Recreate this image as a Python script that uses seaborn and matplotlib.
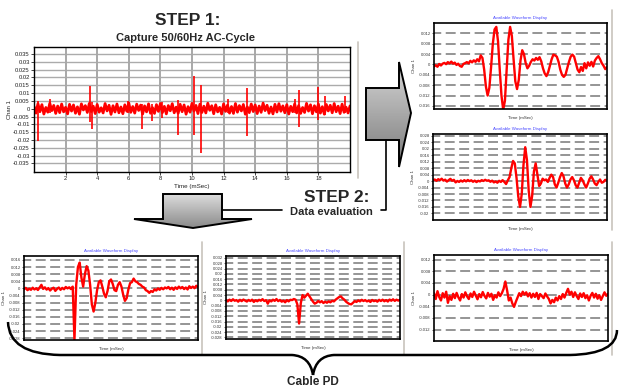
import numpy as np
import matplotlib
matplotlib.use("Agg")
import matplotlib.pyplot as plt
import seaborn as sns
from matplotlib.patches import Polygon, PathPatch
from matplotlib.path import Path

sns.set_style("white")
plt.rcParams['font.family'] = ['Liberation Sans', 'DejaVu Sans']

# ---- STEP 1 capture (20 ms), values in 1e-3 ----
capture_noise = [1.5, -2.8, 3.2, -1.9, 2.6, -3.4, 0.8, -2.2, 3.5, -1.2, 2.1, -3.0, 1.7, -2.5, 3.0, -2.0, 0.9, -3.3, 2.8, -1.5,
                 2.4, -2.9, 1.2, -3.5, 3.1, -0.8, 2.0, -2.4, 3.4, -1.8, 1.6, -3.1, 2.7, -2.2, 0.6, -2.7, 3.3, -1.4, 2.2, -3.6,
                 1.9, -2.1, 3.0, -2.6, 1.1, -3.2, 2.5, -1.6, 3.6, -2.3, 1.4, -2.8, 2.9, -1.1, 2.3, -3.4, 1.8, -2.0, 3.1, -2.9,
                 0.7, -3.0, 2.6, -1.7, 3.3, -2.5, 1.5, -3.3, 2.0, -1.3, 3.2, -2.6, 1.0, -2.9, 2.8, -1.9, 2.4, -3.5, 1.3, -2.2,
                 3.4, -1.5, 2.1, -3.1, 2.9, -2.4, 1.6, -2.7, 3.5, -1.0, 1.9, -3.2, 2.5, -2.0, 0.9, -3.4, 3.1, -1.7, 2.3, -2.8,
                 1.4, -3.0, 3.3, -2.2, 2.0, -1.4, 2.7, -3.5, 1.2, -2.5, 3.0, -1.8, 2.4, -3.1, 1.7, -2.3, 3.6, -1.2, 2.2, -2.9,
                 1.1, -3.3, 2.8, -2.1, 3.2, -1.6, 1.8, -2.6, 2.6, -3.4, 1.5, -1.9, 3.1, -2.7, 2.0, -3.0, 0.8, -2.4, 3.4, -1.5,
                 2.5, -3.2, 1.9, -2.0, 3.0, -2.8, 1.3, -3.5, 2.7, -1.4, 2.2, -2.6, 3.3, -1.9, 1.6, -3.1, 2.9, -2.3, 1.0, -2.7,
                 1.8]
spike_t = [0.25, 1.0, 3.55, 3.65, 5.95, 6.85, 7.5, 8.1, 9.1, 10.1, 10.55, 12.3, 13.5, 16.5, 16.8, 17.95, 18.4, 19.7]
spike_hi = [5, 6, 14.5, 4, 5, 3, 3, 4, 5.5, 21, 15, 6, 13.5, 6, 12, 14, 8, 8]
spike_lo = [-20.5, -3, -8.5, -13, -3, -13, -8, -6, -17, -17, -28.5, -3, -17.5, -3, -12, -7, -4, -3]

main_yticks = [0.035, 0.03, 0.025, 0.02, 0.015, 0.01, 0.005, 0, -0.005, -0.01, -0.015, -0.02, -0.025, -0.03, -0.035]
main_ylabels = ["0.035", "0.03", "0.025", "0.02", "0.015", "0.01", "0.005", "0",
                "-0.005", "-0.01", "-0.015", "-0.02", "-0.025", "-0.03", "-0.035"]
main_xticks = [2, 4, 6, 8, 10, 12, 14, 16, 18]

# ---- detail waveforms (101 samples each, 1e-3 units) ----
wave_tr1 = [-0.8, -0.3, -0.9, 0.2, -0.4, 0.3, 0.6, 0.1, 0.9, 0.4, 1.1, 0.3, 0.7, -0.2, 0.3, -0.6, -0.9, 0.2, 0.5, 0.9,
            0.4, 1.4, 0.8, 1.6, 1.0, 2.0, 1.2, 3.5, 2.5, -2.0, -8.5, -12.0, -9.0, -1.0, 8.0, 13.5, 14.5, 9.0, -2.0, -12.0,
            -17.5, -14.0, -2.0, 9.5, 14.5, 11.0, 2.0, -6.5, -9.5, -6.0, 1.5, 5.5, 4.0, 0.5, -1.5, -0.5, 1.0, 2.0, 1.5, 2.5,
            1.8, 2.8, 1.2, -1.5, -3.5, -4.5, -3.0, -0.5, 2.0, 3.8, 3.5, 3.0, 1.0, -2.0, -4.0, -4.8, -4.0, -1.5, 1.0, 3.0,
            3.8, 3.0, 0.5, -2.0, -3.0, -1.0, -2.5, 0.5, -1.5, 0.8, -0.5, 1.0, -0.8, 1.5, 2.5, 3.2, 2.0, 0.5, -0.5, -1.8,
            -1.0]
wave_tr2 = [0.5, 1.0, 0.2, 1.2, 0.6, 1.5, 0.3, 0.9, -0.3, 0.6, 1.4, 0.2, 0.8, -0.8, 0.1, -0.5, 0.4, -0.3, 0.6, -0.2,
            0.7, 0.0, 0.5, -0.4, 0.3, -0.6, 0.2, -0.2, 0.6, 0.1, 0.8, 0.2, 0.5, -0.4, 0.3, -0.8, -0.2, -1.0, 0.2, -0.5,
            0.6, -0.5, -1.8, 0.5, 2.5, 8.0, 12.5, 11.0, 2.0, -9.5, -16.0, -8.0, 10.0, 21.0, 13.0, -6.0, -16.0, -9.0, 6.0, 11.0,
            4.0, -3.0, -1.5, 1.5, 0.5, 1.0, -0.5, 2.0, 4.0, 2.5, -2.0, -4.0, -1.0, 2.5, 5.0, 3.0, -1.5, -4.0, -2.0, 1.0,
            2.5, 0.5, -2.5, -4.0, -1.0, 2.0, 0.5, -2.0, -4.0, -1.5, 1.5, 3.0, 1.0, -1.5, -2.5, -0.5, 1.0, -1.0, -0.5, 0.8,
            0.2]
wave_bl = [-0.5, 0.3, -1.0, -0.2, -0.8, 0.4, -0.6, 0.1, -0.9, 0.5, 2.0, -0.3, 0.6, -0.7, 0.2, -1.2, -0.2, 0.4, -1.4, -0.3,
           0.5, -0.8, 0.3, -0.5, 0.8, 0.0, 0.6, -0.4, 1.0, -29.0, 2.0, 12.0, 14.5, 6.0, 1.0, 8.0, 12.5, 10.0, 2.0, -9.0,
           -13.0, -8.0, -1.0, 3.5, 4.5, 1.0, -3.0, -5.0, -1.5, 4.0, 5.0, 2.5, -1.0, -1.5, 2.0, 3.5, 1.0, -3.5, -7.0, -5.5,
           -0.5, 3.0, 3.5, 5.5, 4.0, 3.5, 2.5, 2.0, 1.0, 0.5, -1.0, -1.5, -2.5, -1.5, -2.0, -0.5, -1.2, 0.0, -0.8, 0.3,
           -0.5, 0.5, 0.0, 0.8, -0.5, 0.4, -0.8, 0.6, -0.3, 1.0, 0.0, 0.8, -0.4, 0.5, -0.6, 1.2, 0.2, 1.0, 0.1, 1.5,
           0.6]
wave_bm = [0.3, -0.8, 0.5, -0.5, 0.8, -0.3, 0.2, -1.0, 0.4, -0.6, 0.6, -0.2, -0.9, 0.3, -0.5, 0.5, -1.2, 0.1, -0.7, 0.4,
           -0.3, 0.9, -0.5, 0.2, -2.5, 0.0, -0.8, 0.5, -0.4, 1.0, -0.6, 0.3, -1.0, -0.2, -1.5, 0.2, -0.8, 0.4, 0.2, 1.0,
           0.5, -3.0, -17.5, -2.0, 4.0, 2.0, 3.5, 5.0, 3.0, 1.0, -1.0, -2.5, -1.8, -0.5, -1.5, -0.6, -2.0, -1.0, -1.8, -0.8,
           -1.5, -0.3, -0.8, 0.5, 1.5, 2.5, 3.0, 1.5, 0.5, -1.0, -2.0, -2.8, -3.0, -1.8, -0.6, -1.2, 0.0, -0.8, 0.4, -0.5,
           0.2, -0.8, -0.2, -1.2, 0.3, -0.6, -0.1, -1.0, 0.4, -0.5, 0.5, -0.7, 0.2, -0.9, 0.6, -0.3, 0.8, -0.4, 0.5, -0.2,
           0.4]
wave_br = [0.5, -1.5, 1.2, -0.8, -2.0, 0.5, -1.0, 1.0, -2.8, -0.5, -1.8, 0.3, -1.2, 0.6, -0.9, -2.0, 0.2, -1.0, 0.8, -0.6,
           -1.5, 0.4, -0.8, 1.0, -0.3, -1.6, 0.2, -0.9, 0.9, -0.4, -1.3, 0.6, -0.7, 0.3, -1.8, -0.2, -1.0, 0.8, -0.5, 0.5,
           2.0, 4.5, 1.5, -2.0, -1.0, -3.0, -4.2, -2.5, -1.0, 0.5, -0.5, 1.0, 0.0, 0.8, -0.6, 0.5, -1.0, 0.3, -0.8, 0.6,
           -1.5, 0.2, -0.5, -1.2, 0.4, -0.6, -1.5, -3.0, -1.8, -2.6, -1.0, -2.0, -0.5, -1.5, 0.2, -1.0, 0.6, 2.0, 0.0, 1.0,
           -0.8, 0.8, -0.5, -1.5, 0.4, -0.8, 0.5, -1.2, -0.2, -2.0, -0.4, 0.6, -1.0, 0.3, -1.4, -0.2, -1.8, -0.5, 0.8, -0.4,
           0.3]

tick_tr1 = [0.012, 0.008, 0.004, 0, -0.004, -0.008, -0.012, -0.016]
tick_tr2 = [0.028, 0.024, 0.02, 0.016, 0.012, 0.008, 0.004, 0, -0.004, -0.008, -0.012, -0.016, -0.02]
tick_bl = [0.016, 0.012, 0.008, 0.004, 0, -0.004, -0.008, -0.012, -0.016, -0.02, -0.024, -0.028]
tick_bm = [0.032, 0.028, 0.024, 0.02, 0.016, 0.012, 0.008, 0.004, 0, -0.004, -0.008, -0.012, -0.016, -0.02, -0.024, -0.028]
tick_br = [0.012, 0.008, 0.004, 0, -0.004, -0.008, -0.012]

W, H = 619, 389
fig = plt.figure(figsize=(W / 100, H / 100), dpi=100)


def rect(x0, y0, x1, y1):
    return [x0 / W, 1 - y1 / H, (x1 - x0) / W, (y1 - y0) / H]


# ---- main capture chart ----
ax = fig.add_axes(rect(34, 47, 350, 172))
ax.grid(False, which="both")
for v in main_yticks:
    ax.axhline(v, color="#ababab", lw=1.0, zorder=0)
for v in main_xticks:
    ax.axvline(v, color="#a8a8a8", lw=1.4, zorder=0)
t_noise = np.linspace(0, 20, len(capture_noise))
sns.lineplot(x=t_noise, y=np.array(capture_noise) / 1000, ax=ax, color="#ff0000", lw=2.0, estimator=None)
ax.vlines(spike_t, np.array(spike_lo) / 1000, np.array(spike_hi) / 1000, color="#ff0000", lw=1.2)
ax.set_xlim(0, 20)
ax.set_ylim(-0.0405, 0.0395)
ax.set_yticks(main_yticks)
ax.set_yticklabels(main_ylabels)
ax.set_xticks(main_xticks)
ax.set_xticklabels([str(v) for v in main_xticks])
ax.tick_params(axis="both", which="major", labelsize=4.2, length=2, width=0.6, direction="out", pad=1,
               left=True, bottom=True, labelcolor="#222222")
ax.set_xlabel("Time (mSec)", fontsize=4.5, labelpad=2, color="#222222")
ax.set_ylabel("Chan 1", fontsize=4.2, labelpad=1, color="#222222")
for s in ax.spines.values():
    s.set_color("black")
    s.set_linewidth(1.0)


def small_panel(box, values, ticks, ylim):
    a = fig.add_axes(rect(*box))
    a.grid(False)
    for v in ticks:
        a.axhline(v, color="#8c8c8c", lw=1.3, ls=(1.5, (5.5, 2.5)), zorder=0)
    xs = np.linspace(0, 1, len(values))
    sns.lineplot(x=xs, y=np.array(values) / 1000, ax=a, color="#ff0000", lw=1.7, estimator=None)
    a.set_xlim(0, 1)
    a.set_ylim(*ylim)
    a.set_xticks([])
    a.set_yticks(ticks)
    a.set_yticklabels([("%g" % v) for v in ticks])
    a.tick_params(axis="y", labelsize=3.0, length=1.5, width=0.5, pad=1, left=True, labelcolor="#333333")
    a.set_title("Available Waveform Display", fontsize=3.2, color="#4a4aff", pad=3)
    a.set_xlabel("Time (mSec)", fontsize=3.2, labelpad=5, color="#333333")
    a.set_ylabel("Chan 1", fontsize=3.2, labelpad=2, color="#333333")
    for s in a.spines.values():
        s.set_color("black")
        s.set_linewidth(1.2)
    return a


small_panel((434, 23, 607, 109), wave_tr1, tick_tr1, (-0.0172, 0.016))
small_panel((433, 134, 607, 220), wave_tr2, tick_tr2, (-0.0241, 0.0292))
small_panel((24, 256, 198, 340), wave_bl, tick_bl, (-0.0290, 0.0182))
small_panel((226, 256, 400, 339), wave_bm, tick_bm, (-0.0292, 0.0335))
small_panel((434, 255, 608, 341), wave_br, tick_br, (-0.0159, 0.0136))

# ---- overlay: arrows, labels, brace ----
ov = fig.add_axes([0, 0, 1, 1])
ov.set_axis_off()
ov.patch.set_alpha(0)

for x, y0, y1 in [(358, 42, 178), (612, 10, 230), (202, 242, 355), (404, 242, 355), (612, 242, 355)]:
    ov.plot([x, x], [y0, y1], color="#c8c4bc", lw=1.2)


def grad_arrow(pts, c_top, c_bot):
    poly = Polygon(pts, closed=True, fc="none", ec="black", lw=1.4, zorder=5)
    ov.add_patch(poly)
    xs = [p[0] for p in pts]
    ys = [p[1] for p in pts]
    g = np.linspace(0, 1, 64).reshape(-1, 1)
    cmap = matplotlib.colors.LinearSegmentedColormap.from_list("g", [c_top, c_bot])
    im = ov.imshow(g, extent=(min(xs), max(xs), max(ys), min(ys)), cmap=cmap, aspect="auto",
                   origin="upper", zorder=4)
    im.set_clip_path(poly)


grad_arrow([(366, 88), (399, 88), (399, 62), (411, 113), (399, 167), (399, 140), (366, 140)], "#d6d6d6", "#7a7a7a")
grad_arrow([(163, 194), (222, 194), (222, 219), (252, 219), (193, 228), (134, 219), (163, 219)], "#dcdcdc", "#8a8a8a")

ov.plot([222, 282], [210, 210], color="black", lw=1.2, zorder=6)
ov.plot([386, 386, 381], [140, 210, 210], color="black", lw=1.2, zorder=6)

ov.text(188, 20, "STEP 1:", ha="center", va="center", fontsize=12.5, fontweight="bold")
ov.text(186, 37.5, "Capture 50/60Hz AC-Cycle", ha="center", va="center", fontsize=8, fontweight="bold")
ov.text(337, 197, "STEP 2:", ha="center", va="center", fontsize=12.5, fontweight="bold")
ov.text(331, 212, "Data evaluation", ha="center", va="center", fontsize=8, fontweight="bold")
ov.text(313, 382, "Cable PD", ha="center", va="center", fontsize=8.5, fontweight="bold")

verts = [(8, 322), (9, 354), (60, 355), (292, 355), (310, 356), (313, 375), (313, 375), (316, 356), (334, 355),
         (570, 355), (617, 354), (617, 330)]
codes = [Path.MOVETO, Path.CURVE3, Path.CURVE3, Path.LINETO, Path.CURVE3, Path.CURVE3, Path.MOVETO,
         Path.CURVE3, Path.CURVE3, Path.LINETO, Path.CURVE3, Path.CURVE3]
ov.add_patch(PathPatch(Path(verts, codes), fc="none", ec="black", lw=1.8, zorder=6))

ov.set_xlim(0, W)
ov.set_ylim(H, 0)

fig.savefig("out.png", dpi=100)
